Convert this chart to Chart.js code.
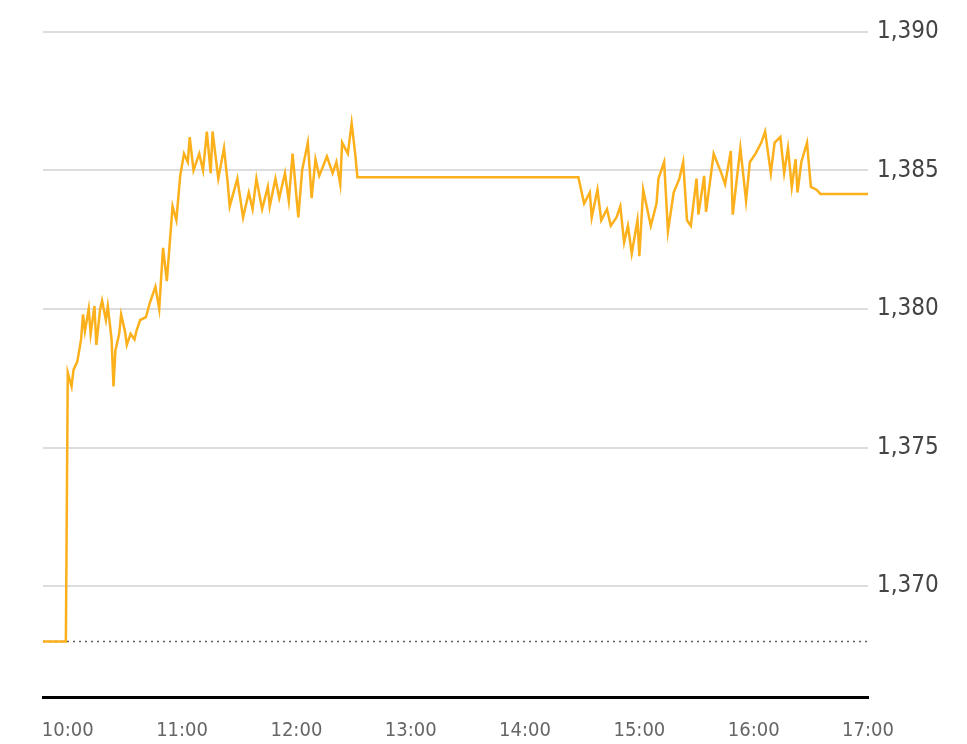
<!DOCTYPE html>
<html>
<head>
<meta charset="utf-8">
<script src="https://cdn.jsdelivr.net/npm/chart.js@4.4.0/dist/chart.umd.min.js"></script>
<style>
  html, body { margin: 0; padding: 0; background: #fff; }
  canvas { display: block; }
</style>
</head>
<body>
<canvas id="priceChart" width="967" height="744"></canvas>
<script>
// intraday prices
const times = [
  '09:47', '09:59', '10:00', '10:02', '10:03', '10:05', '10:07', '10:08', '10:09', '10:11',
  '10:12', '10:14', '10:15', '10:17', '10:18', '10:20', '10:21', '10:23', '10:24', '10:25',
  '10:27', '10:28', '10:30', '10:31', '10:33', '10:35', '10:36', '10:38', '10:41', '10:43',
  '10:46', '10:48', '10:50', '10:52', '10:55', '10:57', '10:59', '11:01', '11:03', '11:04',
  '11:06', '11:09', '11:11', '11:13', '11:15', '11:16', '11:19', '11:22', '11:24', '11:25',
  '11:29', '11:32', '11:35', '11:37', '11:39', '11:42', '11:45', '11:46', '11:49', '11:51',
  '11:54', '11:56', '11:58', '12:01', '12:03', '12:06', '12:08', '12:10', '12:12', '12:16',
  '12:19', '12:21', '12:23', '12:24', '12:27', '12:29', '12:31', '12:32', '14:27', '14:28',
  '14:31', '14:34', '14:35', '14:38', '14:40', '14:43', '14:45', '14:48', '14:50', '14:52',
  '14:54', '14:56', '14:59', '15:00', '15:02', '15:06', '15:09', '15:10', '15:13', '15:15',
  '15:18', '15:21', '15:23', '15:25', '15:27', '15:30', '15:31', '15:34', '15:35', '15:39',
  '15:43', '15:45', '15:48', '15:49', '15:53', '15:56', '15:58', '16:01', '16:04', '16:06',
  '16:09', '16:11', '16:14', '16:16', '16:18', '16:20', '16:22', '16:23', '16:25', '16:28',
  '16:30', '16:33', '16:35', '17:00'
];
const prices = [
  1368.0, 1368.0, 1377.7, 1377.2, 1377.8, 1378.1, 1378.9, 1379.8, 1379.2, 1380.0,
  1379.1, 1380.1, 1378.7, 1380.0, 1380.3, 1379.6, 1380.1, 1378.9, 1377.2, 1378.5,
  1379.1, 1379.8, 1379.2, 1378.7, 1379.1, 1378.9, 1379.2, 1379.6, 1379.7, 1380.2,
  1380.8, 1380.0, 1382.2, 1381.0, 1383.7, 1383.2, 1384.8, 1385.6, 1385.3, 1386.2,
  1385.0, 1385.6, 1385.0, 1386.4, 1384.9, 1386.4, 1384.7, 1385.8, 1384.5, 1383.7,
  1384.7, 1383.3, 1384.2, 1383.6, 1384.7, 1383.6, 1384.4, 1383.7, 1384.7, 1384.0,
  1384.9, 1383.9, 1385.6, 1383.3, 1385.0, 1386.0, 1384.0, 1385.4, 1384.8, 1385.5,
  1384.9, 1385.3, 1384.5, 1386.0, 1385.6, 1386.7, 1385.5, 1384.75, 1384.75, 1384.75,
  1383.8, 1384.2, 1383.3, 1384.3, 1383.2, 1383.6, 1383.0, 1383.3, 1383.7, 1382.4,
  1383.0, 1382.0, 1383.2, 1381.9, 1384.3, 1383.0, 1383.8, 1384.7, 1385.3, 1382.8,
  1384.2, 1384.7, 1385.3, 1383.2, 1383.0, 1384.7, 1383.4, 1384.8, 1383.5, 1385.6,
  1384.9, 1384.5, 1385.7, 1383.4, 1385.8, 1383.9, 1385.3, 1385.6, 1386.0, 1386.4,
  1384.9, 1386.0, 1386.2, 1384.9, 1385.8, 1384.4, 1385.4, 1384.2, 1385.3, 1386.0,
  1384.4, 1384.3, 1384.15, 1384.15
];
const prevClose = 1368.0;
const hourLabels = ['10:00', '11:00', '12:00', '13:00', '14:00', '15:00', '16:00', '17:00'];
const priceTicks = [1370, 1375, 1380, 1385, 1390];

const toMin = s => {
  const [h, m] = s.split(':');
  return Number(h) * 60 + Number(m);
};

const startMin = toMin(times[0]);
const endMin = toMin(times[times.length - 1]);
const labelFont = '"Liberation Sans Narrow", "DejaVu Sans Condensed", "Liberation Sans", sans-serif';

const ctx = document.getElementById('priceChart').getContext('2d');

new Chart(ctx, {
  type: 'line',
  data: {
    datasets: [
      {
        label: 'price',
        data: times.map((t, i) => ({ x: toMin(t), y: prices[i] })),
        borderColor: '#FBB01C',
        borderWidth: 2.5,
        pointRadius: 0,
        tension: 0,
        order: 0
      },
      {
        label: 'prev close',
        data: [{ x: startMin, y: prevClose }, { x: endMin, y: prevClose }],
        borderColor: '#5e5e5e',
        borderWidth: 1.5,
        borderDash: [2, 4],
        pointRadius: 0,
        order: 1
      }
    ]
  },
  options: {
    responsive: false,
    animation: false,
    layout: { padding: { left: 43, top: 4, right: 0, bottom: 0 } },
    plugins: {
      legend: { display: false },
      tooltip: { enabled: false }
    },
    scales: {
      x: {
        type: 'linear',
        min: startMin,
        max: endMin,
        afterBuildTicks: axis => {
          axis.ticks = hourLabels.map(h => ({ value: toMin(h) }));
        },
        afterFit: axis => {
          axis.height = 47;
          axis.paddingLeft = 0;
          axis.paddingRight = 0;
        },
        grid: { display: false, drawTicks: false },
        border: { display: true, color: '#000', width: 3 },
        ticks: {
          padding: 22,
          maxRotation: 0,
          autoSkip: false,
          color: '#666',
          font: { family: labelFont, size: 20 },
          callback: v => {
            const h = Math.floor(v / 60);
            const m = v % 60;
            return h + ':' + String(m).padStart(2, '0');
          }
        }
      },
      y: {
        position: 'right',
        min: 1366,
        max: 1391,
        afterBuildTicks: axis => {
          axis.ticks = priceTicks.map(v => ({ value: v }));
        },
        afterFit: axis => {
          axis.width = 99;
          axis.paddingTop = 0;
          axis.paddingBottom = 0;
        },
        grid: { color: '#dddddd', lineWidth: 2, drawTicks: false },
        border: { display: false },
        ticks: {
          padding: 9,
          color: '#444',
          font: { family: labelFont, size: 24 },
          callback: v => v.toLocaleString('en-US')
        }
      }
    }
  }
});
</script>
</body>
</html>
